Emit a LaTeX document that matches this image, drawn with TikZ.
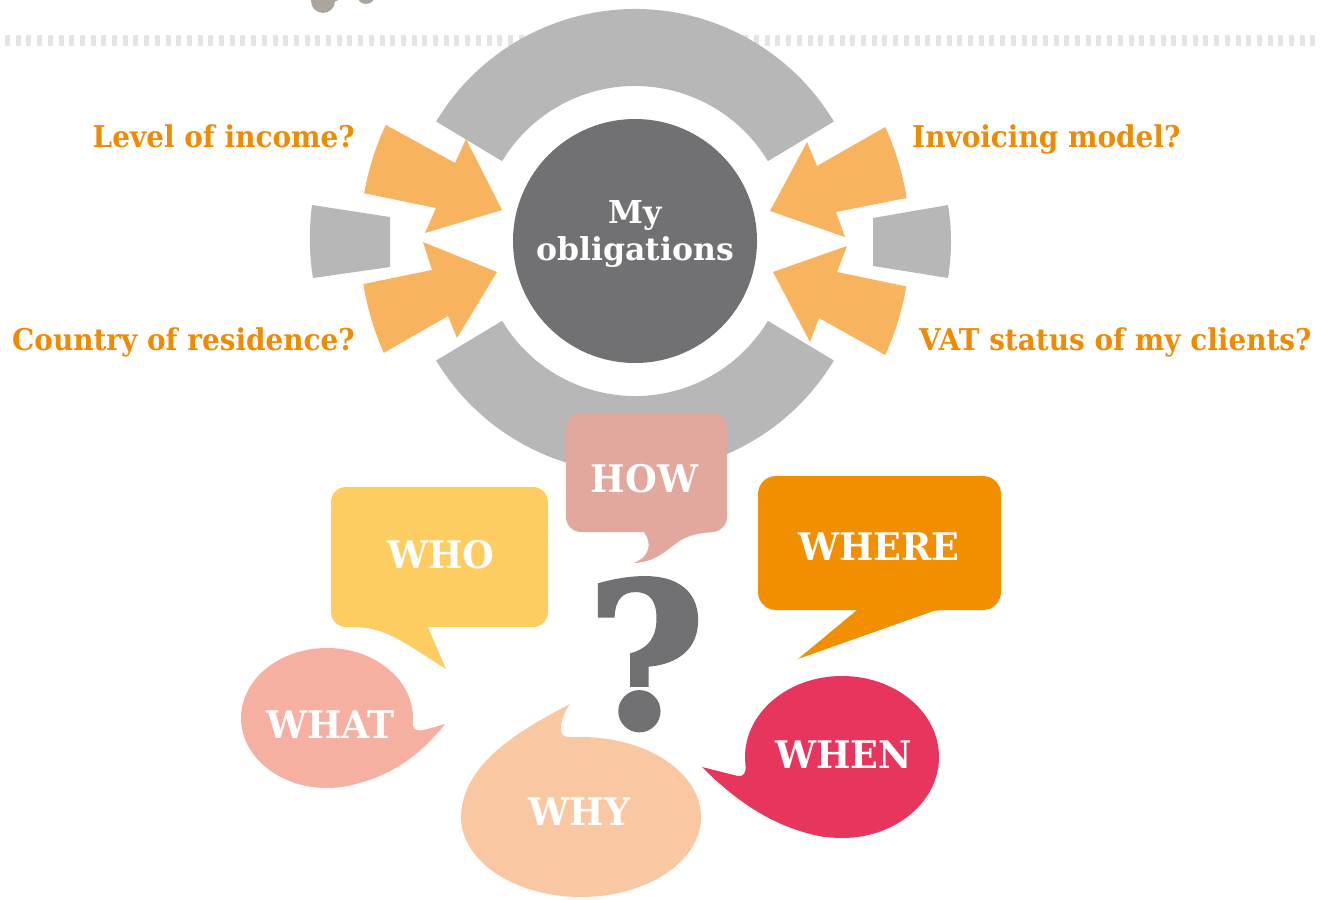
\documentclass[tikz,border=0pt]{standalone}
\usepackage{fontspec}
\setmainfont{DejaVu Serif}
\newfontfamily\labfont[FakeStretch=0.93]{DejaVu Serif}
\newfontfamily\bubfont[FakeStretch=0.96]{DejaVu Serif}
\newfontfamily\qmfont[FakeBold=2.5]{DejaVu Serif}
\usetikzlibrary{calc}
\definecolor{ringgray}{HTML}{B7B7B7}
\definecolor{arroworange}{HTML}{F7B35E}
\definecolor{darkcircle}{HTML}{717072}
\definecolor{labelorange}{HTML}{EF8A04}
\definecolor{howcol}{HTML}{E2A89D}
\definecolor{whocol}{HTML}{FECD62}
\definecolor{whatcol}{HTML}{F5B0A2}
\definecolor{whycol}{HTML}{F9C8A2}
\definecolor{wherecol}{HTML}{F28F00}
\definecolor{whencol}{HTML}{E8355D}
\definecolor{dashcol}{HTML}{E4E4E4}
\definecolor{dotcol}{HTML}{ADA59D}
\tikzset{
  qlabel/.style={inner sep=0pt, text=labelorange, font=\labfont\fontsize{30}{36}\selectfont\bfseries},
  btext/.style={inner sep=0pt, text=white, anchor=base, font=\bubfont\fontsize{38}{44}\selectfont\bfseries},
  ctext/.style={inner sep=0pt, text=white, anchor=base, font=\fontsize{31.5}{36}\selectfont\bfseries},
}
\begin{document}
\begin{tikzpicture}[x=1pt,y=-1pt]
\useasboundingbox (0,0) rectangle (1324,899);
\coordinate (C) at (635,241);
% dashed rule
\draw[dashcol, line width=11pt, dash pattern=on 5pt off 5.7pt] (5,40.5) -- (1320,40.5);
% top dots
\fill[dotcol] (323,1) circle[radius=12];
\draw[dotcol, line width=10pt] (323,1) -- (345,-8);
\fill[dotcol] (366,-5) circle[radius=9];
% ring pieces
\fill[ringgray] ($(C)+(-149:232)$) arc[start angle=-149, end angle=-31, radius=232]
   -- ($(C)+(-31:155)$) arc[start angle=-31, end angle=-149, radius=155] -- cycle;
\fill[ringgray] ($(C)+(31:232)$) arc[start angle=31, end angle=149, radius=232]
   -- ($(C)+(149:155)$) arc[start angle=149, end angle=31, radius=155] -- cycle;
\fill[ringgray] (312,205) -- (390,217) -- (390,267) -- (313,278) .. controls (309,254) and (309,229) .. cycle;
\fill[ringgray] (948,205) -- (873,218) -- (873,266) -- (948,278) .. controls (952,254) and (952,229) .. cycle;
% orange arrows
\fill[arroworange] ($(C)+(205:275)$) arc[start angle=205, end angle=190, radius=275]
   -- (436,208) -- (425,233) -- (502,210) -- (466,139) -- (455,163) -- cycle;
\fill[arroworange] (423,242) -- (497,272) -- (457,338) -- (448,316)
   -- ($(C)+(156:275)$) arc[start angle=156, end angle=171, radius=275] -- (432,270) -- cycle;
\fill[arroworange] ($(C)+(-24.5:275)$) arc[start angle=-24.5, end angle=-9, radius=275]
   -- (836,212) -- (845,237) -- (770,211) -- (807,142) -- (817,166) -- cycle;
\fill[arroworange] (847,246) -- (773,272) -- (810,342) -- (819,318)
   -- ($(C)+(24.5:275)$) arc[start angle=24.5, end angle=9.5, radius=275] -- (837,272) -- cycle;
% centre circle
\fill[darkcircle] (C) circle[radius=122];
\node[ctext] (my) at (635,223) {My};
\node[ctext] (obl) at (635,260) {obligations};
% labels
\node[qlabel, anchor=base east] (income) at (355,147) {Level of income?};
\node[qlabel, anchor=base east] (country) at (355,350) {Country of residence?};
\node[qlabel, anchor=base west] (invoice) at (912,147) {Invoicing model?};
\node[qlabel, anchor=base west] (vat) at (919,350) {VAT status of my clients?};
% HOW
\fill[howcol, rounded corners=15pt] (566,413) rectangle (727,532);
\fill[howcol] (640,528) .. controls (652,538) and (653,555) .. (634,563)
   .. controls (660,562) and (670,545) .. (685,538) .. controls (693,534) and (703,533) .. (712,532) -- (712,528) -- cycle;
\node[btext] (how) at (644.5,492) {HOW};
% WHO
\fill[whocol, rounded corners=15pt] (331,487) rectangle (548,627);
\fill[whocol] (352,620) -- (352,627) .. controls (385,627) and (400,640) .. (446,669) -- (427,625) -- (427,620) -- cycle;
\node[btext] (who) at (441,568) {WHO};
% WHAT
\fill[whatcol] (327,718) ellipse[x radius=86, y radius=70];
\fill[whatcol] (405,705) -- (412,715) -- (413,726) .. controls (414,730) and (418,731) .. (424,730) -- (445,724)
   .. controls (425,750) and (395,775) .. (355,784) -- (340,760) -- cycle;
\node[btext] (what) at (330.5,738) {WHAT};
% WHY
\fill[whycol] (581,817) ellipse[x radius=120, y radius=80];
\fill[whycol] (462,806) .. controls (470,760) and (520,730) .. (570,704)
   .. controls (562,715) and (558,730) .. (563,735) .. controls (566,738) and (572,737) .. (580,737) -- (560,790) -- cycle;
\node[btext] (why) at (579.5,825) {WHY};
% WHERE
\fill[wherecol, rounded corners=18pt] (758,476) rectangle (1001,610);
\fill[wherecol] (857,605) -- (857,610) -- (798,659) -- (928,613) .. controls (932,611) and (936,610) .. (945,610) -- (945,605) -- cycle;
\node[btext] (where) at (879,560) {WHERE};
% WHEN
\fill[whencol] (842,757) ellipse[x radius=97, y radius=81];
\fill[whencol] (746,765) .. controls (746,772) and (744,777) .. (738,776) -- (702,767)
   .. controls (730,795) and (770,828) .. (825,837) -- (800,780) -- cycle;
\node[btext] (when) at (843.5,768) {WHEN};
% question mark
\node[inner sep=0pt, anchor=base, text=darkcircle, font=\qmfont\fontsize{200}{200}\selectfont\bfseries] (qm) at (646,727) {?};
\end{tikzpicture}
\end{document}
